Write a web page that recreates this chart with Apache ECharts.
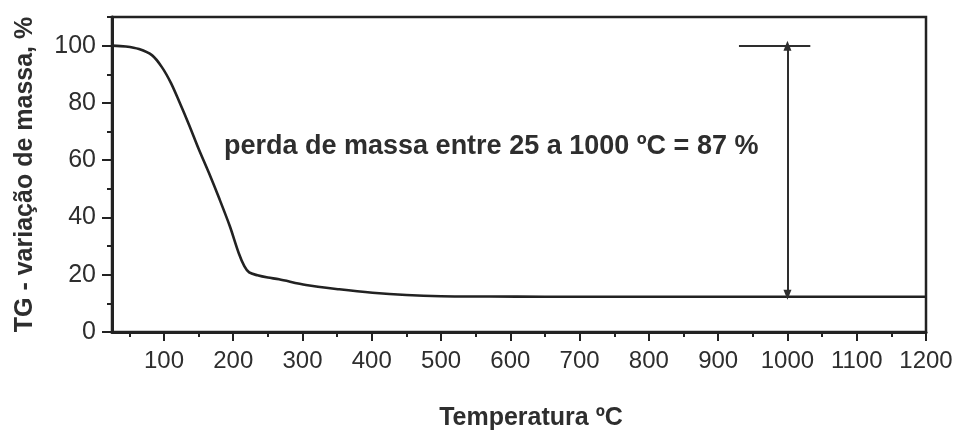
<!DOCTYPE html>
<html>
<head>
<meta charset="utf-8">
<script src="https://cdn.jsdelivr.net/npm/echarts@6/dist/echarts.min.js"></script>
<style>
  html, body { margin: 0; padding: 0; background: #fff; }
  #chart { width: 964px; height: 435px; }
</style>
</head>
<body>
<div id="chart"></div>
<script>
// Thermogravimetric curve: temperature (ºC) vs. remaining mass (%)
const temperature = [25, 45, 64, 83, 97, 110, 122, 136, 150, 165, 180, 195, 208, 216, 223, 235, 250, 266, 305, 353, 401, 450, 500, 570, 650, 800, 1000, 1200];
const massPercent = [100, 99.7, 98.8, 96.6, 92.5, 87, 80.5, 72.5, 64, 55.5, 46.5, 37, 27.5, 23, 20.8, 19.8, 19, 18.4, 16.4, 14.9, 13.7, 12.9, 12.5, 12.4, 12.3, 12.3, 12.3, 12.3];

// Axis ticks
const xMajorTicks = [100, 200, 300, 400, 500, 600, 700, 800, 900, 1000, 1100, 1200];
const xMinorTicks = [50, 150, 250, 350, 450, 550, 650, 750, 850, 950, 1050, 1150];
const yMajorTicks = [0, 20, 40, 60, 80, 100];
const yMinorTicks = [10, 30, 50, 70, 90, 110];

// Mass loss annotation
const lossStart = 25;
const lossEnd = 1000;
const massLoss = 87;
const initialMass = 100;
const refBarFrom = 930;
const refBarTo = 1033;
const annotationText = 'perda de massa entre ' + lossStart + ' a ' + lossEnd + ' ºC = ' + massLoss + ' %';

const INK = '#222';
const TEXT = '#2e2e2e';

const chart = echarts.init(document.getElementById('chart'), null, { renderer: 'canvas' });

const plainNumber = v => String(v);

const baseX = {
  type: 'value', min: 25, max: 1200, position: 'bottom', gridIndex: 0,
  splitLine: { show: false }
};
const baseY = {
  type: 'value', min: 0, max: 110, position: 'left', gridIndex: 0,
  splitLine: { show: false }
};

chart.setOption({
  animation: false,
  backgroundColor: '#fff',
  grid: {
    left: 112, right: 38, top: 17, bottom: 103,
    containLabel: false,
    outerBoundsMode: 'none',
    show: true, borderColor: INK, borderWidth: 2.5, backgroundColor: 'transparent'
  },
  xAxis: [
    Object.assign({}, baseX, {
      name: 'Temperatura ºC',
      nameLocation: 'middle',
      nameGap: 74,
      nameTextStyle: { fontFamily: 'Liberation Sans', fontWeight: 'bold', fontSize: 25, color: TEXT, padding: [0, 0, 0, 24] },
      axisLine: { show: true, lineStyle: { color: INK, width: 3 } },
      axisTick: { show: true, inside: false, length: 9, customValues: xMajorTicks, lineStyle: { color: INK, width: 2 } },
      axisLabel: { show: true, customValues: xMajorTicks, formatter: plainNumber, margin: 17, fontFamily: 'Liberation Sans', fontSize: 24, color: TEXT, showMaxLabel: true, hideOverlap: false }
    }),
    Object.assign({}, baseX, {
      axisLine: { show: false },
      axisTick: { show: true, inside: false, length: 5, customValues: xMinorTicks, lineStyle: { color: INK, width: 2 } },
      axisLabel: { show: false }
    })
  ],
  yAxis: [
    Object.assign({}, baseY, {
      name: 'TG - variação de massa, %',
      nameLocation: 'middle',
      nameGap: 74,
      nameRotate: 90,
      nameTextStyle: { fontFamily: 'Liberation Sans', fontWeight: 'bold', fontSize: 25, color: TEXT },
      axisLine: { show: true, lineStyle: { color: INK, width: 3 } },
      axisTick: { show: true, inside: false, length: 10, customValues: yMajorTicks, lineStyle: { color: INK, width: 2 } },
      axisLabel: { show: true, customValues: yMajorTicks, formatter: plainNumber, margin: 16, fontFamily: 'Liberation Sans', fontSize: 25, color: TEXT }
    }),
    Object.assign({}, baseY, {
      axisLine: { show: false },
      axisTick: { show: true, inside: false, length: 5, customValues: yMinorTicks, lineStyle: { color: INK, width: 2 } },
      axisLabel: { show: false }
    })
  ],
  graphic: [{
    type: 'text',
    x: 224, y: 147,
    style: {
      text: annotationText,
      font: 'bold 27px "Liberation Sans"',
      fill: TEXT,
      verticalAlign: 'middle'
    }
  }],
  series: [{
    type: 'line',
    xAxisIndex: 0, yAxisIndex: 0,
    data: temperature.map((t, i) => [t, massPercent[i]]),
    showSymbol: false,
    smooth: 0.3,
    lineStyle: { color: INK, width: 2.6 },
    markLine: {
      silent: true,
      animation: false,
      label: { show: false },
      data: [
        [
          { coord: [lossEnd, initialMass - massLoss], symbol: 'triangle', symbolSize: [8, 10], symbolRotate: 180 },
          { coord: [lossEnd, initialMass], symbol: 'triangle', symbolSize: [8, 10], symbolRotate: 0 }
        ],
        [
          { coord: [refBarFrom, initialMass], symbol: 'none' },
          { coord: [refBarTo, initialMass], symbol: 'none' }
        ]
      ],
      lineStyle: { color: TEXT, width: 2, type: 'solid' }
    }
  }]
});
</script>
</body>
</html>
